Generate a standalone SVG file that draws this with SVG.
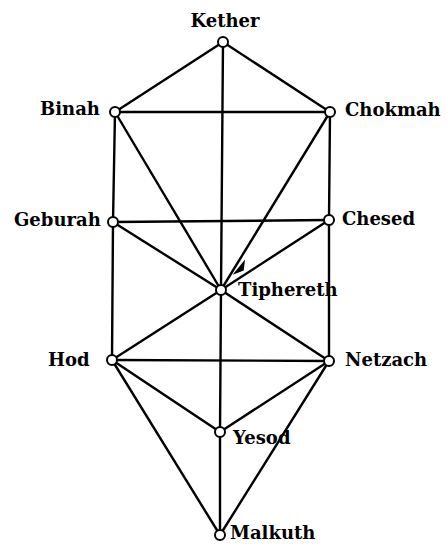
<svg xmlns="http://www.w3.org/2000/svg" width="447" height="545" viewBox="0 0 447 545">
<style>
.e{stroke:#000;stroke-width:2.4;fill:none;stroke-linecap:round}
.n{fill:#fff;stroke:#000;stroke-width:2}
.t{font-family:"DejaVu Serif","Liberation Serif",serif;font-weight:bold;font-size:18px;fill:#000}
</style>
<rect width="447" height="545" fill="#fff"/>
<g id="connectors">
<path class="e" d="M223 42L115 112"/>
<path class="e" d="M223 42L330 112"/>
<path class="e" d="M223 42L221 290"/>
<path class="e" d="M115 112L330 112" stroke-width="1.8"/>
<path class="e" d="M115 112L113 222"/>
<path class="e" d="M115 112L221 290"/>
<path class="e" d="M330 112L329 220"/>
<path class="e" d="M330 112L221 290"/>
<path class="e" d="M113 222L329 220"/>
<path class="e" d="M113 222L221 290"/>
<path class="e" d="M113 222L112 360"/>
<path class="e" d="M329 220L221 290"/>
<path class="e" d="M329 220L329 361"/>
<path class="e" d="M221 290L112 360"/>
<path class="e" d="M221 290L329 361"/>
<path class="e" d="M221 290L220 432"/>
<path class="e" d="M112 360L329 361"/>
<path class="e" d="M112 360L220 432"/>
<path class="e" d="M112 360L220 535"/>
<path class="e" d="M329 361L220 432"/>
<path class="e" d="M329 361L220 535"/>
<path class="e" d="M220 432L220 535"/>
<path d="M235 273L244 262L243 270Z" fill="#000" stroke="#000" stroke-width="1.5"/>
</g>
<g id="kether"><circle class="n" cx="223" cy="42" r="5"/><text class="t" x="225" y="27" text-anchor="middle">Kether</text></g>
<g id="binah"><circle class="n" cx="115" cy="112" r="5"/><text class="t" x="40" y="115">Binah</text></g>
<g id="chokmah"><circle class="n" cx="330" cy="112" r="5"/><text class="t" x="345" y="116">Chokmah</text></g>
<g id="geburah"><circle class="n" cx="113" cy="222" r="5"/><text class="t" x="14" y="226">Geburah</text></g>
<g id="chesed"><circle class="n" cx="329" cy="220" r="5"/><text class="t" x="342" y="225">Chesed</text></g>
<g id="tiphereth"><circle class="n" cx="221" cy="290" r="5"/><text class="t" x="238" y="296">Tiphereth</text></g>
<g id="hod"><circle class="n" cx="112" cy="360" r="5"/><text class="t" x="48" y="366">Hod</text></g>
<g id="netzach"><circle class="n" cx="329" cy="361" r="5"/><text class="t" x="345" y="366">Netzach</text></g>
<g id="yesod"><circle class="n" cx="220" cy="432" r="5"/><text class="t" x="233" y="444">Yesod</text></g>
<g id="malkuth"><circle class="n" cx="220" cy="535" r="5"/><text class="t" x="230" y="539">Malkuth</text></g>
</svg>
